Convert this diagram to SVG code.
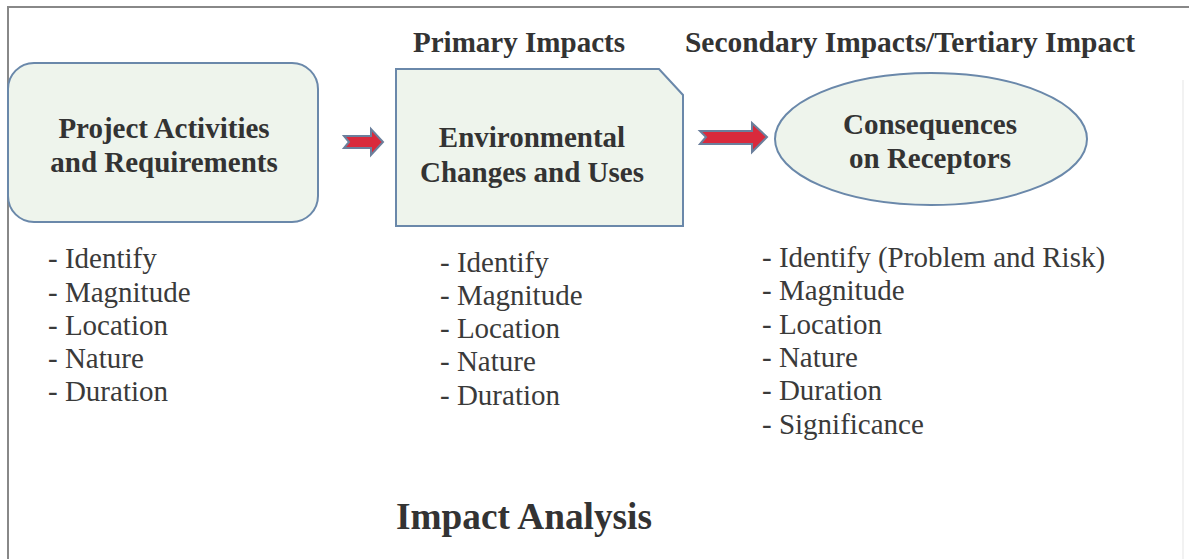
<svg xmlns="http://www.w3.org/2000/svg" width="1189" height="559" viewBox="0 0 1189 559">
<style>
.node{fill:#eef4ec;stroke:#6a88aa;stroke-width:2}
.nt{font-family:"Liberation Serif",serif;font-weight:bold;font-size:29px;fill:#333;text-anchor:middle}
.hd{font-family:"Liberation Serif",serif;font-weight:bold;font-size:29px;fill:#333}
.li{font-family:"Liberation Serif",serif;font-size:29px;fill:#3a3a3a}
.arr{fill:#d92a3c;stroke:#6b7f9c;stroke-width:2;stroke-linejoin:miter}
</style>
<rect width="1189" height="559" fill="#fff"/>
<path d="M8 559 V7 H1189" fill="none" stroke="#888" stroke-width="2"/>
<line x1="1183" y1="80" x2="1183" y2="559" stroke="#eee" stroke-width="1.5"/>
<g id="headings">
<text class="hd" x="413" y="52" textLength="212" lengthAdjust="spacingAndGlyphs">Primary Impacts</text>
<text class="hd" x="685" y="52" textLength="450" lengthAdjust="spacingAndGlyphs">Secondary Impacts/Tertiary Impact</text>
</g>
<g id="node-project">
<rect class="node" x="8" y="63" width="310" height="159" rx="26"/>
<text class="nt" x="164" y="138">Project Activities</text>
<text class="nt" x="164" y="172">and Requirements</text>
</g>
<g id="node-environmental">
<path class="node" d="M396 69 H659 L683 95 V226 H396 Z"/>
<text class="nt" x="532" y="147">Environmental</text>
<text class="nt" x="532" y="182">Changes and Uses</text>
</g>
<g id="node-consequences">
<ellipse class="node" cx="931" cy="139" rx="156" ry="66"/>
<text class="nt" x="930" y="134">Consequences</text>
<text class="nt" x="930" y="168">on Receptors</text>
</g>
<g id="connectors">
<path class="arr" d="M344 136 H371 V129 L383 142 L371 155 V148 H344 L349 142 Z"/>
<path class="arr" d="M700 131 H752 V123 L767 137 L752 152 V144 H700 L706 137 Z"/>
</g>
<g id="list-project">
<text class="li" x="48" y="268">- Identify</text>
<text class="li" x="48" y="302">- Magnitude</text>
<text class="li" x="48" y="335">- Location</text>
<text class="li" x="48" y="368">- Nature</text>
<text class="li" x="48" y="401">- Duration</text>
</g>
<g id="list-environmental">
<text class="li" x="440" y="272">- Identify</text>
<text class="li" x="440" y="305">- Magnitude</text>
<text class="li" x="440" y="338">- Location</text>
<text class="li" x="440" y="371">- Nature</text>
<text class="li" x="440" y="405">- Duration</text>
</g>
<g id="list-consequences">
<text class="li" x="762" y="267">- Identify (Problem and Risk)</text>
<text class="li" x="762" y="300">- Magnitude</text>
<text class="li" x="762" y="334">- Location</text>
<text class="li" x="762" y="367">- Nature</text>
<text class="li" x="762" y="400">- Duration</text>
<text class="li" x="762" y="434">- Significance</text>
</g>
<g id="title">
<text x="396" y="529" font-family="Liberation Serif, serif" font-weight="bold" font-size="38" fill="#333" textLength="256" lengthAdjust="spacingAndGlyphs">Impact Analysis</text>
</g>
</svg>
